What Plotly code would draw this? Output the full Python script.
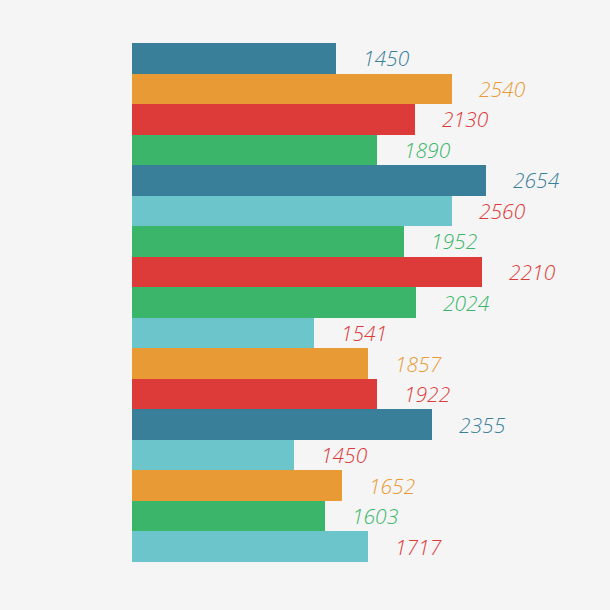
import plotly.graph_objects as go

# Bar lengths (bars are decorative, not proportional to labels)
bar_lengths = [204, 320, 283, 245, 354, 320, 272, 350, 284, 182, 236, 245, 300, 162, 210, 193, 236]
label_values = ["1450", "2540", "2130", "1890", "2654", "2560", "1952", "2210", "2024",
                "1541", "1857", "1922", "2355", "1450", "1652", "1603", "1717"]
bar_colors = ["#3A7F99", "#E89B35", "#DD3A3A", "#3BB56A", "#3A7F99", "#6CC5CB", "#3BB56A",
              "#DD3A3A", "#3BB56A", "#6CC5CB", "#E89B35", "#DD3A3A", "#3A7F99", "#6CC5CB",
              "#E89B35", "#3BB56A", "#6CC5CB"]
label_colors = ["#3A7F99", "#E89B35", "#DD3A3A", "#3BB56A", "#3A7F99", "#DD3A3A", "#3BB56A",
                "#DD3A3A", "#3BB56A", "#DD3A3A", "#E89B35", "#DD3A3A", "#3A7F99", "#DD3A3A",
                "#E89B35", "#3BB56A", "#DD3A3A"]

idx = list(range(len(bar_lengths)))

fig = go.Figure(go.Bar(
    x=bar_lengths, y=idx, orientation="h",
    marker=dict(color=bar_colors, line=dict(width=0)),
    hoverinfo="skip",
))

for i, (v, t, c) in enumerate(zip(bar_lengths, label_values, label_colors)):
    fig.add_annotation(x=v, y=i, text=t, showarrow=False, xanchor="left", yanchor="middle",
                       xshift=25, yshift=0,
                       font=dict(family="Open Sans", size=21, color=c, style="italic", weight=300))

fig.update_layout(
    width=610, height=610,
    margin=dict(l=132, r=0, t=43, b=48),
    paper_bgcolor="#F5F5F5", plot_bgcolor="#F5F5F5",
    bargap=0, showlegend=False,
    xaxis=dict(range=[0, 478], visible=False),
    yaxis=dict(range=[16.5, -0.5], visible=False),
)

fig.write_html("out.html")
